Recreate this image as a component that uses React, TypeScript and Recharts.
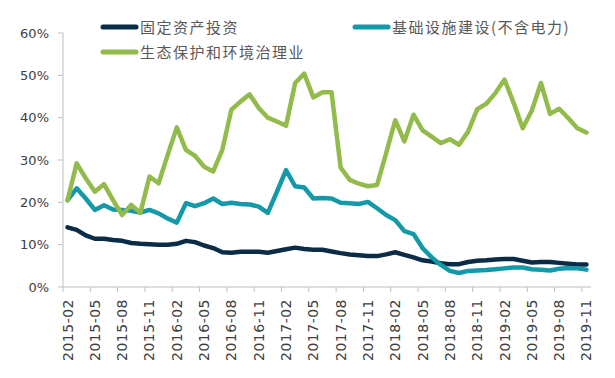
import React from 'react';
import { LineChart, Line, XAxis, YAxis, Legend } from 'recharts';

// monthly, 2015-02 .. 2019-11 (no January points)
const MONTHS = [
  '2015-02', '2015-03', '2015-04', '2015-05', '2015-06', '2015-07', '2015-08', '2015-09', '2015-10', '2015-11', '2015-12',
  '2016-01', '2016-02', '2016-03', '2016-04', '2016-05', '2016-06', '2016-07', '2016-08', '2016-09', '2016-10', '2016-11', '2016-12',
  '2017-01', '2017-02', '2017-03', '2017-04', '2017-05', '2017-06', '2017-07', '2017-08', '2017-09', '2017-10', '2017-11', '2017-12',
  '2018-01', '2018-02', '2018-03', '2018-04', '2018-05', '2018-06', '2018-07', '2018-08', '2018-09', '2018-10', '2018-11', '2018-12',
  '2019-01', '2019-02', '2019-03', '2019-04', '2019-05', '2019-06', '2019-07', '2019-08', '2019-09', '2019-10', '2019-11',
];

// 固定资产投资 (%)
const FAI = [
  14.1, 13.5, 12.2, 11.4, 11.4, 11.1, 10.9, 10.4, 10.2, 10.1, 10.0, 10.0, 10.2, 10.9, 10.6,
  9.8, 9.2, 8.2, 8.1, 8.3, 8.3, 8.3, 8.1, 8.5, 8.9, 9.3, 9.0, 8.8, 8.8, 8.4,
  8.0, 7.7, 7.5, 7.3, 7.3, 7.7, 8.2, 7.6, 7.0, 6.3, 6.0, 5.6, 5.4, 5.4, 5.9,
  6.2, 6.3, 6.5, 6.6, 6.6, 6.2, 5.8, 5.9, 5.9, 5.7, 5.5, 5.3, 5.3,
];

// 基础设施建设(不含电力) (%)
const INFRA = [
  20.5, 23.3, 20.9, 18.2, 19.3, 18.3, 18.2, 18.0, 17.6, 18.2, 17.4, 16.2, 15.2, 19.8, 19.1,
  19.8, 20.9, 19.6, 19.9, 19.6, 19.5, 19.0, 17.5, 22.5, 27.6, 23.8, 23.5, 20.9, 21.0, 20.9,
  19.9, 19.8, 19.6, 20.1, 18.6, 17.0, 15.8, 13.2, 12.5, 9.2, 7.0, 5.2, 3.8, 3.3, 3.8,
  3.9, 4.0, 4.2, 4.4, 4.6, 4.6, 4.2, 4.1, 3.9, 4.3, 4.5, 4.4, 4.1,
];

// 生态保护和环境治理业 (%)
const ECO = [
  20.5, 29.2, 25.7, 22.5, 24.3, 20.5, 17.0, 19.4, 17.5, 26.1, 24.5, 31.2, 37.7, 32.4, 31.0,
  28.4, 27.3, 32.4, 41.9, 43.8, 45.5, 42.3, 40.0, 39.1, 38.1, 48.2, 50.4, 44.8, 46.0, 46.0,
  28.2, 25.3, 24.4, 23.8, 24.1, 31.6, 39.4, 34.4, 40.7, 37.0, 35.5, 34.0, 34.9, 33.6, 36.7,
  42.0, 43.3, 45.8, 49.0, 43.5, 37.5, 41.7, 48.2, 40.9, 42.1, 39.9, 37.5, 36.5,
];

const Y_TICKS = [0, 10, 20, 30, 40, 50, 60];

const SERIES = [
  { key: 'fai', name: '固定资产投资', color: '#0B2C47' },
  { key: 'infra', name: '基础设施建设(不含电力)', color: '#1499A9' },
  { key: 'eco', name: '生态保护和环境治理业', color: '#92BB4B' },
];

const data = MONTHS.map((m, i) => ({ month: m, fai: FAI[i], infra: INFRA[i], eco: ECO[i] }));

const W = 615;
const H = 378;
const MARGIN = { top: 33, right: 24, bottom: 11, left: 0 };
const Y_AXIS_W = 63;
const X_AXIS_H = 80;
const PLOT_W = W - MARGIN.left - MARGIN.right - Y_AXIS_W;
const HALF_STEP = PLOT_W / MONTHS.length / 2;

const AXIS_GRAY = '#BFBFBF';
const TEXT_GRAY = '#404040';

const LEGEND_POS = [
  { left: 100, top: 27 },
  { left: 352, top: 27 },
  { left: 100, top: 52 },
];

const LegendBox = () => (
  <div style={{ position: 'relative', width: W, height: 70 }}>
    {SERIES.map((s, i) => (
      <div
        key={s.key}
        style={{
          position: 'absolute',
          left: LEGEND_POS[i].left,
          top: LEGEND_POS[i].top - 10,
          height: 20,
          display: 'flex',
          alignItems: 'center',
          whiteSpace: 'nowrap',
        }}
      >
        <svg width={40} height={20}>
          <line x1={3} y1={10} x2={36} y2={10} stroke={s.color} strokeWidth={5} strokeLinecap="round" />
        </svg>
        <span
          style={{
            fontFamily: '"Noto Sans CJK SC", sans-serif',
            fontSize: 15,
            letterSpacing: 1.5,
            color: '#595959',
            lineHeight: '20px',
          }}
        >
          {s.name}
        </span>
      </div>
    ))}
  </div>
);

// label sits on the category, tick mark sits on the boundary before it
const MonthTick = (props: any) => {
  const { x, y, payload } = props;
  return (
    <g>
      <line x1={x - HALF_STEP} y1={y} x2={x - HALF_STEP} y2={y + 5} stroke={AXIS_GRAY} />
      <text
        transform={`translate(${x},${y + 12}) rotate(-90)`}
        textAnchor="end"
        dominantBaseline="central"
        fill={TEXT_GRAY}
        fontSize={14}
        letterSpacing={0.5}
        fontFamily="DejaVu Sans"
      >
        {payload.value}
      </text>
    </g>
  );
};

export default function App() {
  return (
    <div style={{ position: 'absolute', left: 0, top: 0, width: W, height: H, background: '#fff' }}>
      <LineChart width={W} height={H} data={data} margin={MARGIN}>
        <XAxis
          dataKey="month"
          interval={2}
          height={X_AXIS_H}
          padding={{ left: HALF_STEP, right: HALF_STEP }}
          axisLine={{ stroke: AXIS_GRAY }}
          tickLine={false}
          tickSize={0}
          tickMargin={0}
          tick={<MonthTick />}
        />
        <YAxis
          width={Y_AXIS_W}
          domain={[0, 60]}
          ticks={Y_TICKS}
          tickFormatter={(v: number) => `${v}%`}
          axisLine={{ stroke: AXIS_GRAY }}
          tickLine={{ stroke: AXIS_GRAY }}
          tickSize={5}
          tickMargin={9}
          tick={{ fill: TEXT_GRAY, fontSize: 13, fontFamily: 'DejaVu Sans' }}
        />
        <Legend
          layout="horizontal"
          verticalAlign="middle"
          align="center"
          wrapperStyle={{ top: 0, left: 0, width: W, height: 70 }}
          content={<LegendBox />}
        />
        {SERIES.map((s) => (
          <Line
            key={s.key}
            type="linear"
            dataKey={s.key}
            name={s.name}
            stroke={s.color}
            strokeWidth={4.5}
            strokeLinejoin="round"
            strokeLinecap="round"
            dot={false}
            activeDot={false}
            isAnimationActive={false}
          />
        ))}
      </LineChart>
    </div>
  );
}
